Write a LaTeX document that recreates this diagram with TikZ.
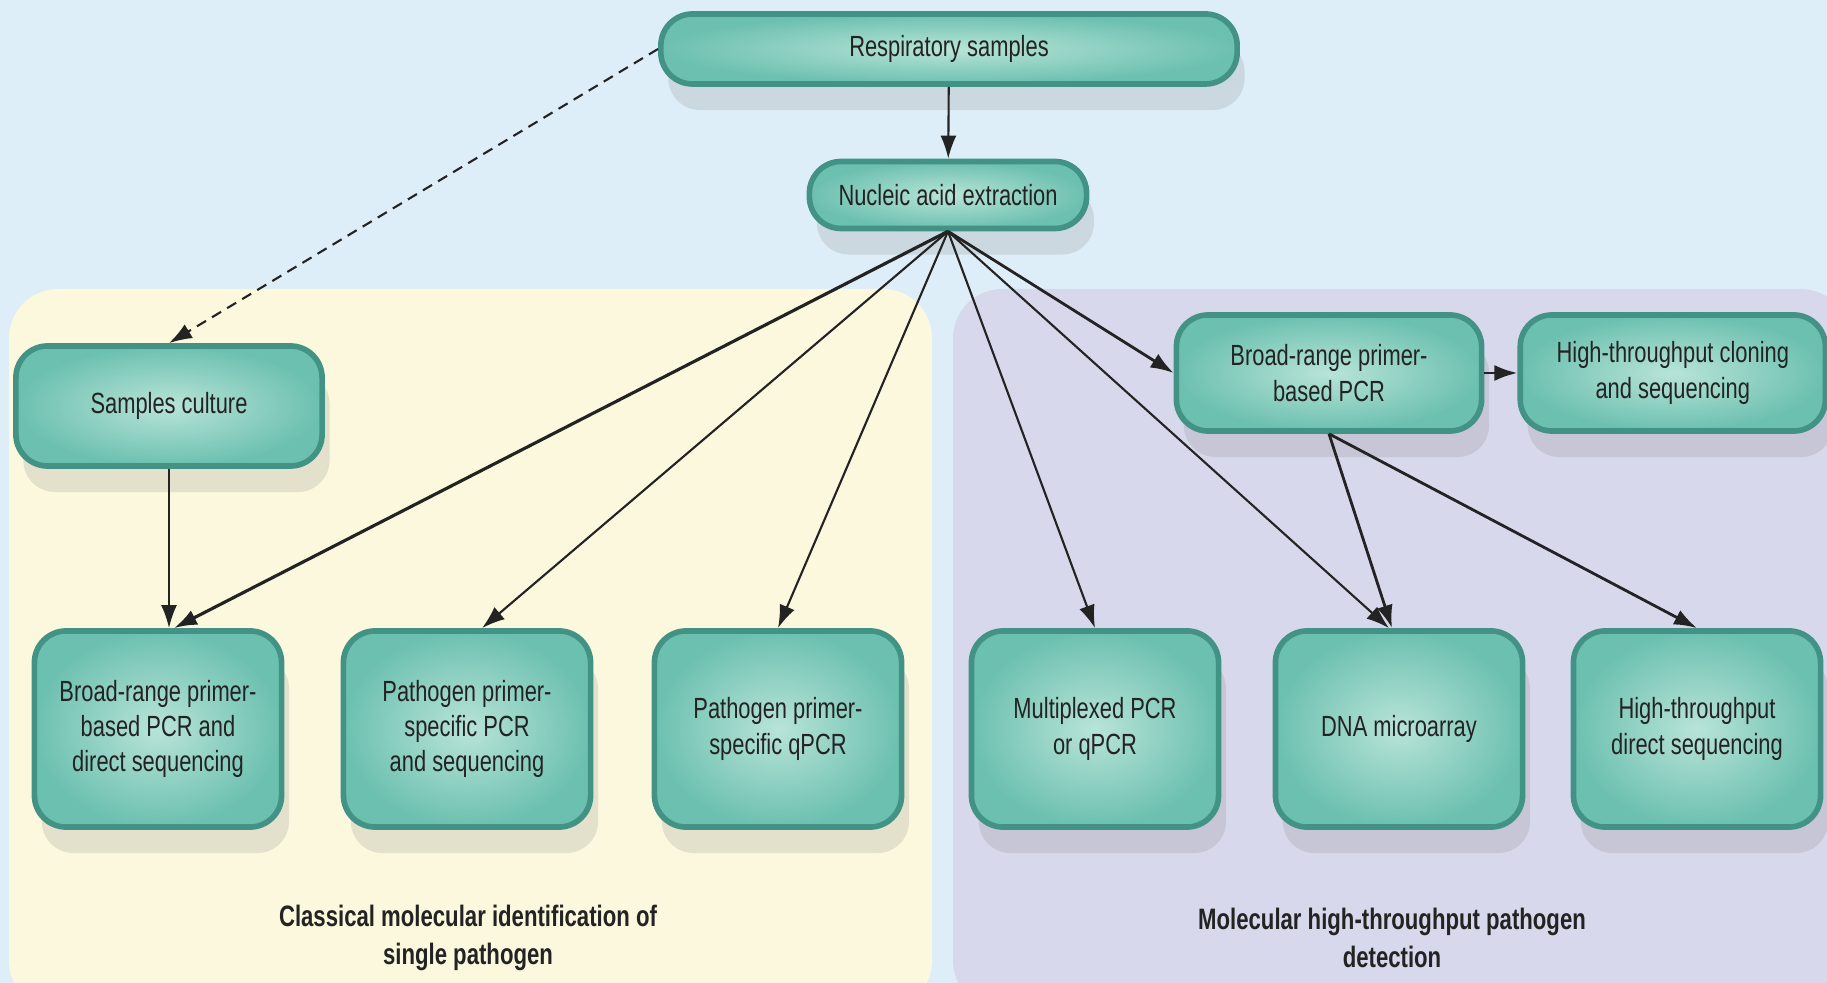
\documentclass[tikz,border=0pt]{standalone}
\usepackage{fontspec}
\setmainfont{Liberation Sans}[FakeStretch=0.75]
\usetikzlibrary{arrows.meta, positioning, shadows}
\definecolor{skyback}{RGB}{222, 238, 248}
\definecolor{creampanel}{RGB}{252, 248, 222}
\definecolor{lilacpanel}{RGB}{216, 216, 236}
\definecolor{tealfill}{RGB}{108, 192, 176}
\definecolor{teallight}{RGB}{184, 228, 216}
\definecolor{tealedge}{RGB}{66, 146, 134}
\definecolor{inkgray}{RGB}{35, 35, 35}
\tikzset{
  procbox/.style={rectangle, rounded corners=9pt, draw=tealedge, line width=1.6pt,
              inner color=teallight, outer color=tealfill, minimum width=#1,
              minimum height=1.16cm, align=center, text=inkgray,
              font=\fontsize{8.3pt}{10pt}\selectfont,
              drop shadow={shadow xshift=0.4ex, shadow yshift=-1.4ex, opacity=0.2}},
  procbox/.default=3.05cm,
  tallbox/.style={procbox=2.47cm, minimum height=1.96cm},
  panel/.style={rounded corners=14pt},
  grouplabel/.style={font=\bfseries\fontsize{8.4pt}{11pt}\selectfont, align=center, text=inkgray},
  arrow/.style={-{Latex[length=2.3mm, width=1.6mm]}, line width=0.6pt, color=inkgray},
  dasharrow/.style={arrow, dash pattern=on 3pt off 2pt},
}
\begin{document}
\begin{tikzpicture}[x=0.01cm, y=-0.01cm]
  \fill[skyback] (0,0) rectangle (1827,983);
  \useasboundingbox (0,0) rectangle (1827,983);
  \fill[creampanel, panel] (9,289) rectangle (932,1010);
  \fill[lilacpanel, panel] (953,289) rectangle (1850,1010);

  \node[procbox=5.76cm, minimum height=0.7cm] (resp) at (949,49) {Respiratory samples};
  \node[procbox=2.77cm, minimum height=0.67cm] (nucleic) at (948,195) {Nucleic acid extraction};
  \node[procbox=3.06cm, minimum height=1.2cm] (culture) at (169,406) {Samples culture};
  \node[procbox] (broadpcr) at (1329,373) {Broad-range primer-\\based PCR};
  \node[procbox, right=0.33cm of broadpcr] (cloning) {High-throughput cloning\\and sequencing};

  \node[tallbox] (broadseq) at (158,729) {Broad-range primer-\\based PCR and\\direct sequencing};
  \node[tallbox] (specseq) at (467,729) {Pathogen primer-\\specific PCR\\and sequencing};
  \node[tallbox] (specqpcr) at (778,729) {Pathogen primer-\\specific qPCR};
  \node[tallbox] (multiplex) at (1095,729) {Multiplexed PCR\\or qPCR};
  \node[tallbox] (microarray) at (1399,729) {DNA microarray};
  \node[tallbox] (directseq) at (1697,729) {High-throughput\\direct sequencing};

  \node[grouplabel] (classlabel) at (468,938) {Classical molecular identification of\\single pathogen};
  \node[grouplabel] (htlabel) at (1392,938) {Molecular high-throughput pathogen\\detection};

  \draw[arrow] (resp) -- (nucleic);
  \draw[dasharrow] (resp.west) -- (culture.north);
  \draw[arrow] (culture.south) -- (culture.south |- broadseq.north);

  % fan out of the extraction step
  \draw[arrow, line width=0.9pt] (nucleic.south) -- ([xshift=0.16cm]broadseq.north);
  \draw[arrow] (nucleic.south) -- ([xshift=0.15cm]specseq.north);
  \draw[arrow] (nucleic.south) -- (specqpcr.north);
  \draw[arrow] (nucleic.south) -- (multiplex.north);
  \draw[arrow] (nucleic.south) -- ([xshift=-0.1cm]microarray.north);
  \draw[arrow, line width=0.8pt] (nucleic.south) -- (broadpcr.west);

  \draw[arrow, line width=0.8pt] (broadpcr) -- (cloning);
  \draw[arrow, line width=0.8pt] (broadpcr.south) -- ([xshift=-0.07cm]microarray.north);
  \draw[arrow, line width=0.8pt] (broadpcr.south) -- (directseq.north);
\end{tikzpicture}
\end{document}
